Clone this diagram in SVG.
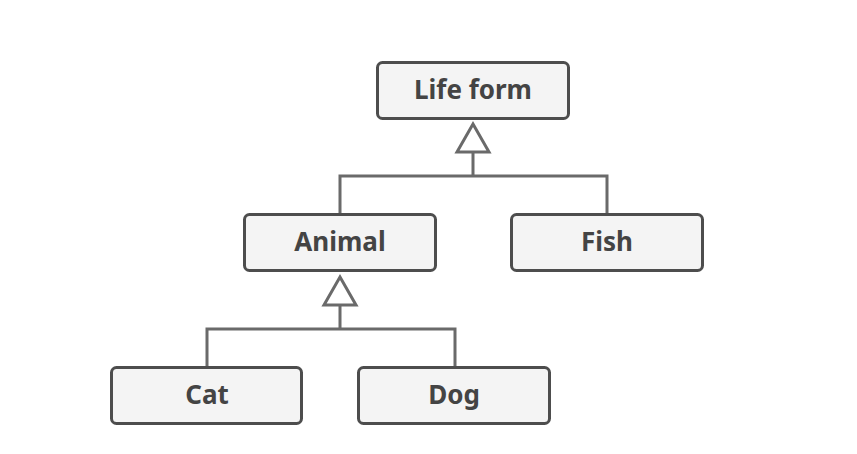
<svg xmlns="http://www.w3.org/2000/svg" width="857" height="454" viewBox="0 0 857 454">
<style>
.box{fill:#f4f4f4;stroke:#4d4d4d;stroke-width:3}
.lbl{font-family:"Noto Sans","Liberation Sans",sans-serif;font-weight:bold;font-size:26px;fill:#444;text-anchor:middle}
.ln{fill:none;stroke:#6a6a6a;stroke-width:3}
.tri{fill:#fff;stroke:#6a6a6a;stroke-width:3;stroke-linejoin:miter}
</style>
<rect width="857" height="454" fill="#fff"/>
<g id="connectors">
<path class="ln" d="M473 152V176M340 214V176H607V214"/>
<polygon class="tri" points="473,124 489,152 457,152"/>
<path class="ln" d="M340 305V329M207 367V329H455V367"/>
<polygon class="tri" points="340,277 356,305 324,305"/>
</g>
<g id="lifeform"><rect class="box" x="377.5" y="62.5" width="191" height="56" rx="5"/><text class="lbl" x="473" y="99">Life form</text></g>
<g id="animal"><rect class="box" x="244.5" y="214.5" width="191" height="56" rx="5"/><text class="lbl" x="340" y="251">Animal</text></g>
<g id="fish"><rect class="box" x="511.5" y="214.5" width="191" height="56" rx="5"/><text class="lbl" x="607" y="251">Fish</text></g>
<g id="cat"><rect class="box" x="111.5" y="367.5" width="190" height="56" rx="5"/><text class="lbl" x="207" y="404">Cat</text></g>
<g id="dog"><rect class="box" x="358.5" y="367.5" width="191" height="56" rx="5"/><text class="lbl" x="454" y="404">Dog</text></g>
</svg>
